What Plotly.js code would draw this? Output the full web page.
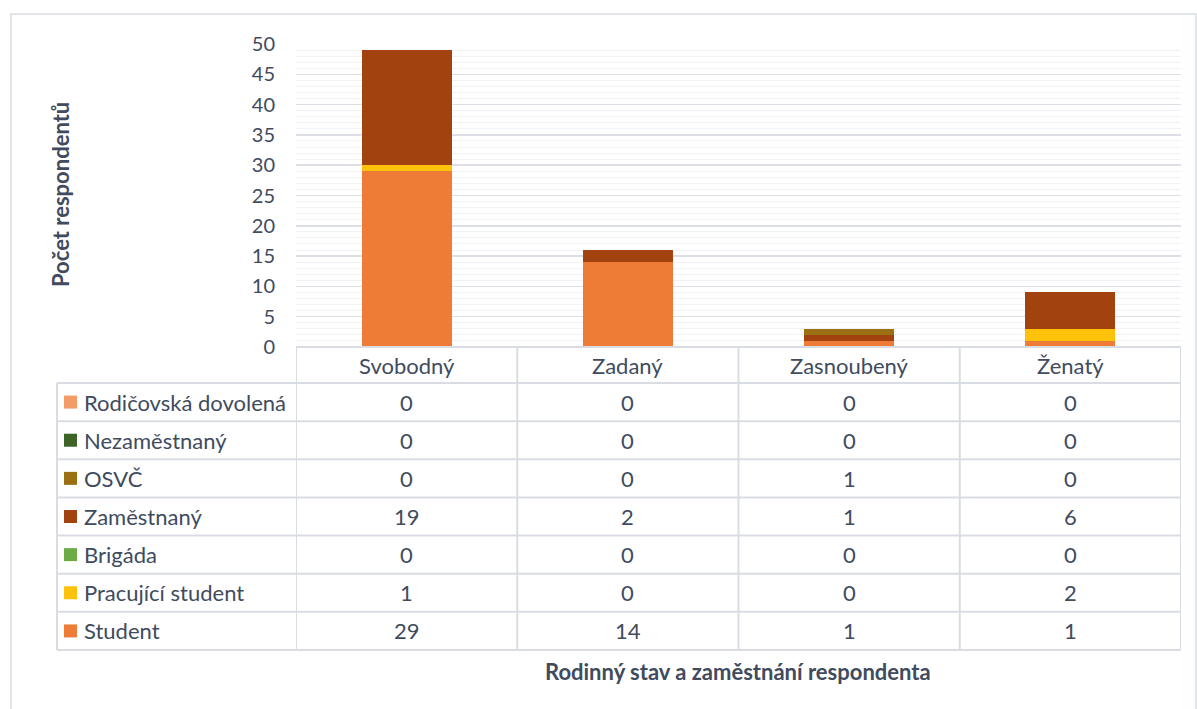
<!DOCTYPE html>
<html><head><meta charset="utf-8">
<script src="https://cdn.plot.ly/plotly-3.0.1.min.js"></script>
<style>html,body{margin:0;padding:0;background:#fff}#chart{width:1197px;height:709px}</style>
</head><body><div id="chart"></div>
<script>
// ---- data ----
const categories = ['Svobodný', 'Zadaný', 'Zasnoubený', 'Ženatý'];
const seriesNames = ['Rodičovská dovolená', 'Nezaměstnaný', 'OSVČ', 'Zaměstnaný', 'Brigáda', 'Pracující student', 'Student'];
const rodicovska = [0, 0, 0, 0];
const nezamestnany = [0, 0, 0, 0];
const osvc = [0, 0, 1, 0];
const zamestnany = [19, 2, 1, 6];
const brigada = [0, 0, 0, 0];
const pracujici = [1, 0, 0, 2];
const student = [29, 14, 1, 1];
const yTickVals = [0, 5, 10, 15, 20, 25, 30, 35, 40, 45, 50];
const xTitle = 'Rodinný stav a zaměstnání respondenta';
const yTitle = 'Počet respondentů';

// table rows (top to bottom) and colours
const rowValues = [rodicovska, nezamestnany, osvc, zamestnany, brigada, pracujici, student];
const rowColors = ['#f39c68', '#3d6424', '#9a7012', '#a1420f', '#6dab44', '#ffc20a', '#ee7b36'];

// ---- geometry (pixels) ----
const W = 1197, H = 709;
const L = 296, R = 1181, T = 44, B = 347;
const pw = R - L, ph = B - T;
const px = p => (p - L) / pw;
const py = p => (B - p) / ph;
const headerBottom = 383, tableBottom = 650, tableLeft = 57;
const rowH = (tableBottom - headerBottom) / rowValues.length;

const textColor = '#404b5e';
const lineColor = '#d9dde3';
const FONT = 'Lato, "Open Sans", sans-serif';
const fs = 22;

// ---- traces (bottom of stack first) ----
const traces = [];
for (let i = rowValues.length - 1; i >= 0; i--) {
  traces.push({
    type: 'bar', name: seriesNames[i], x: categories, y: rowValues[i],
    marker: {color: rowColors[i], line: {width: 0}}, hoverinfo: 'x+y+name'
  });
}

// ---- table shapes and texts ----
const shapes = [];
const annotations = [];
// outer chart border
shapes.push({type: 'rect', xref: 'paper', yref: 'paper', x0: px(11), x1: px(1196), y0: py(14), y1: py(720),
  line: {color: lineColor, width: 1.5}, fillcolor: 'rgba(0,0,0,0)'});
// horizontal lines
shapes.push({type: 'line', xref: 'paper', yref: 'paper', x0: px(L), x1: px(R), y0: py(B), y1: py(B), line: {color: lineColor, width: 2}});
for (let r = 0; r <= rowValues.length; r++) {
  const yy = headerBottom + r * rowH;
  shapes.push({type: 'line', xref: 'paper', yref: 'paper', x0: px(tableLeft), x1: px(R), y0: py(yy), y1: py(yy), line: {color: lineColor, width: 2}});
}
// vertical lines
shapes.push({type: 'line', xref: 'paper', yref: 'paper', x0: px(tableLeft), x1: px(tableLeft), y0: py(headerBottom), y1: py(tableBottom), line: {color: lineColor, width: 2}});
for (let c = 0; c <= categories.length; c++) {
  shapes.push({type: 'line', xref: 'x', yref: 'paper', x0: c - 0.5, x1: c - 0.5, y0: py(B), y1: py(tableBottom), line: {color: lineColor, width: 2}});
}
// header labels
categories.forEach((cat, c) => {
  annotations.push({xref: 'x', yref: 'paper', x: c, y: py((B + headerBottom) / 2), text: cat, showarrow: false,
    xanchor: 'center', yanchor: 'middle', font: {family: FONT, size: fs, color: textColor}});
});
// rows
rowValues.forEach((vals, r) => {
  const cy = headerBottom + (r + 0.5) * rowH;
  shapes.push({type: 'rect', xref: 'paper', yref: 'paper', x0: px(64), x1: px(77), y0: py(cy - 6.5), y1: py(cy + 6.5),
    fillcolor: rowColors[r], line: {width: 0}});
  annotations.push({xref: 'paper', yref: 'paper', x: px(82), y: py(cy), text: seriesNames[r], showarrow: false,
    xanchor: 'left', yanchor: 'middle', font: {family: FONT, size: fs, color: textColor}});
  vals.forEach((v, c) => {
    annotations.push({xref: 'x', yref: 'paper', x: c, y: py(cy), text: String(v), showarrow: false,
      xanchor: 'center', yanchor: 'middle', font: {family: FONT, size: fs, color: textColor}});
  });
});
// axis titles
annotations.push({xref: 'paper', yref: 'paper', x: px(738), y: py(672), text: '<b>' + xTitle + '</b>', showarrow: false,
  xanchor: 'center', yanchor: 'middle', font: {family: FONT, size: 22, color: textColor}});
annotations.push({xref: 'paper', yref: 'paper', x: px(60), y: py(195), text: '<b>' + yTitle + '</b>', showarrow: false,
  textangle: -90, xanchor: 'center', yanchor: 'middle', font: {family: FONT, size: 22, color: textColor}});

const layout = {
  width: W, height: H,
  margin: {l: L, r: W - R, t: T, b: H - B},
  paper_bgcolor: '#ffffff', plot_bgcolor: '#ffffff',
  barmode: 'stack', bargap: 0.593,
  showlegend: false,
  xaxis: {type: 'category', categoryorder: 'array', categoryarray: categories, range: [-0.5, categories.length - 0.5],
    showticklabels: false, ticks: '', showgrid: false, zeroline: false, showline: false, fixedrange: true},
  yaxis: {range: [0, 50], tickvals: yTickVals, ticktext: yTickVals.map(String), ticks: '', showline: false, zeroline: false,
    showgrid: true, gridcolor: '#dcdfe5', gridwidth: 1.5,
    minor: {dtick: 1, showgrid: true, gridcolor: '#f1f2f5', gridwidth: 1},
    ticklabelstandoff: 20, tickfont: {family: FONT, size: 20, color: textColor}, fixedrange: true},
  shapes: shapes, annotations: annotations
};

Plotly.newPlot('chart', traces, layout, {displayModeBar: false, staticPlot: true});
</script>
</body></html>
